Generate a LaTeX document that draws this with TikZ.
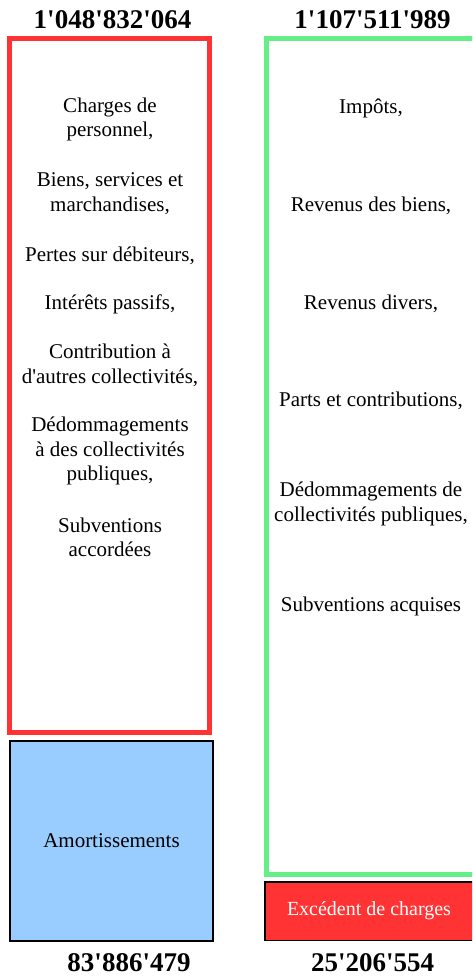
\documentclass[tikz,border=0pt]{standalone}
\usepackage{fontspec}
\setmainfont{Liberation Serif}[Ligatures=TeXOff]

\definecolor{chargered}{HTML}{FF3333}
\definecolor{revenugreen}{HTML}{66EE88}
\definecolor{amortblue}{HTML}{99CCFF}

\begin{document}
\begin{tikzpicture}[x=1pt,y=-1pt,
  total/.style={font=\fontsize{27}{30}\selectfont\bfseries,inner sep=0pt},
  item/.style={align=center,font=\fontsize{21}{24.5}\selectfont,inner sep=0pt},
  bar/.style={line width=5pt,minimum width=200pt,inner sep=0pt}]
  % 1. Fix the page
  \useasboundingbox (0,0) rectangle (472,977);
  \clip (0,0) rectangle (472,977);

  % 2. The two columns (the right one runs off the page)
  \node[bar,draw=chargered,minimum height=694pt] (charges) at (109.5,385.5) {};
  \node[bar,draw=revenugreen,minimum width=220pt,minimum height=836pt] (revenus) at (376.5,456.5) {};

  % 3. The boxes below them
  \node[draw=black,line width=2pt,fill=amortblue,minimum width=203pt,minimum height=200pt,
    font=\fontsize{21}{24.5}\selectfont] (amort) at (111.5,841) {Amortissements};
  \node[draw=black,line width=1.5pt,fill=chargered,minimum width=220pt,minimum height=58.5pt]
    (excedent) at (374.75,911) {};
  \node[text=white,font=\fontsize{20}{24}\selectfont] (excedentlabel) at (369,911) {Excédent de charges};

  % 4. Totals
  \node[total] (chargestotal) at (112.5,19.5) {1'048'832'064};
  \node[total] (revenustotal) at (372.5,19.5) {1'107'511'989};
  \node[total] (amorttotal) at (129,963) {83'886'479};
  \node[total] (excedenttotal) at (372.5,963) {25'206'554};

  % 5. Items of each column
  \foreach \y/\txt [count=\i] in {119.5/{Charges de\\personnel,},
      193.5/{Biens, services et\\marchandises,},
      256/{Pertes sur débiteurs,},
      304/{Intérêts passifs,},
      365.5/{Contribution à\\d'autres collectivités,},
      451/{Dédommagements\\à des collectivités\\publiques,},
      537.5/{Subventions\\accordées}}
    \node[item] (charge\i) at (110,\y) {\txt};
  \foreach \y/\txt [count=\i] in {108/{Impôts,},
      206/{Revenus des biens,},
      304/{Revenus divers,},
      401/{Parts et contributions,},
      504/{Dédommagements de\\collectivités publiques,},
      606/{Subventions acquises}}
    \node[item] (revenu\i) at (371,\y) {\txt};
\end{tikzpicture}
\end{document}
